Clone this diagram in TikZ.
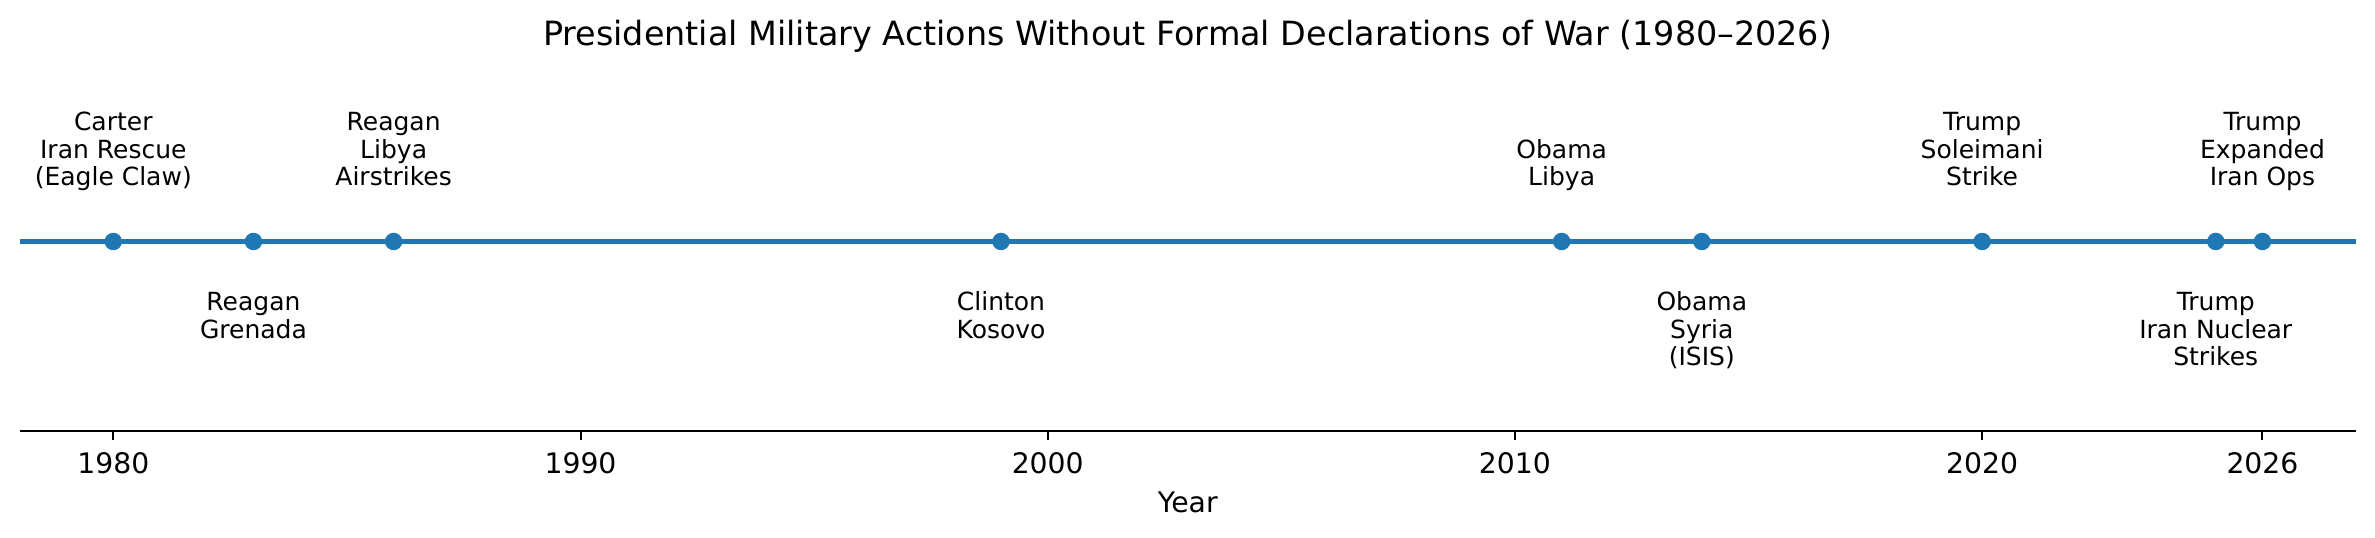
\documentclass[tikz,border=0pt]{standalone}
\usepackage{fontspec}
\setmainfont{DejaVu Sans}
\definecolor{mplblue}{RGB}{31,119,180}
\newcommand{\labtop}[1]{\begin{tabular}[b]{@{}c@{}}#1\end{tabular}}
\newcommand{\labbot}[1]{\begin{tabular}[t]{@{}c@{}}#1\end{tabular}}
\begin{document}
\begin{tikzpicture}[x=0.4pt,y=-0.4pt,
  evlabel/.style={inner sep=0pt, anchor=base, font=\fontsize{10pt}{11pt}\selectfont},
  evdot/.style={circle, fill=mplblue, inner sep=0pt, minimum size=7pt},
  ticklab/.style={inner sep=0pt, anchor=base, font=\fontsize{11.3pt}{13pt}\selectfont},
  titlestyle/.style={inner sep=0pt, anchor=base, font=\fontsize{13.35pt}{16pt}\selectfont},
  tl/.style={draw=mplblue, line width=2pt},
  spine/.style={draw=black, line width=0.8pt},
  tickmark/.style={draw=black, line width=0.8pt}]
\useasboundingbox (0,0) rectangle (2375,538);
\node[titlestyle] (title) at (1187.7,45.7) {Presidential Military Actions Without Formal Declarations of War (1980–2026)};
\node[ticklab] (xlabel) at (1187.7,512.3) {Year};
\begin{scope}[x=18.688pt, xshift=45.32pt]
  % timeline
  \coordinate (tlS) at (-2,241.5);
  \coordinate (tlE) at (48,241.5);
  \draw[tl] (tlS) -- (tlE);
  % axis
  \coordinate (axS) at (-2,430.7);
  \coordinate (axE) at (48,430.7);
  \draw[spine] (axS) -- (axE);
  \foreach \t/\lab in {0/1980,10/1990,20/2000,30/2010,40/2020,46/2026}{
    \draw[tickmark] (\t,430.7) -- (\t,440);
    \node[ticklab] (tick\lab) at (\t,473.3) {\lab};
  }
  % event dots
  \foreach \t/\nm in {0/e1980,3/e1983,6/e1986,19/e1999,31/e2011,34/e2014,40/e2020,45/e2025,46/e2026}{
    \node[evdot] (\nm) at (\t,241.5) {};
  }
  % labels above
  \node[evlabel] (l1980) at (0,186) {\labtop{Carter\\Iran Rescue\\(Eagle Claw)}};
  \node[evlabel] (l1986) at (6,186) {\labtop{Reagan\\Libya\\Airstrikes}};
  \node[evlabel] (l2011) at (31,186) {\labtop{Obama\\Libya}};
  \node[evlabel] (l2020) at (40,186) {\labtop{Trump\\Soleimani\\Strike}};
  \node[evlabel] (l2026) at (46,186) {\labtop{Trump\\Expanded\\Iran Ops}};
  % labels below
  \node[evlabel] (l1983) at (3,311) {\labbot{Reagan\\Grenada}};
  \node[evlabel] (l1999) at (19,311) {\labbot{Clinton\\Kosovo}};
  \node[evlabel] (l2014) at (34,311) {\labbot{Obama\\Syria\\(ISIS)}};
  \node[evlabel] (l2025) at (45,311) {\labbot{Trump\\Iran Nuclear\\Strikes}};
\end{scope}
\end{tikzpicture}
\end{document}
